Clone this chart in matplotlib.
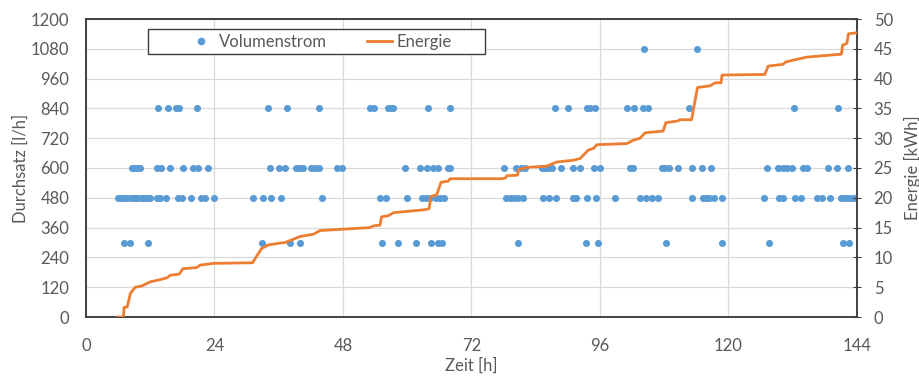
import matplotlib
matplotlib.use("Agg")
import matplotlib.pyplot as plt
from matplotlib.patches import Rectangle
from matplotlib.lines import Line2D

# === Daten ===
# Volumenstrom: Zeitpunkte [h] je Durchsatzstufe [l/h]
t_300 = [7.1, 8.2, 11.5, 32.8, 38.1, 40.0, 55.3, 58.2, 61.6, 64.4, 65.7, 66.4,
         80.7, 93.3, 95.7, 108.3, 118.7, 127.6, 141.3, 142.5]
t_480 = [5.9, 6.5, 7.1, 7.7, 8.4, 9.0, 9.6, 10.3, 10.7, 11.2, 11.8, 12.0, 13.3,
         13.8, 14.9, 17.2, 17.9, 19.6, 21.4, 22.2, 23.9, 31.1, 33.1, 34.5, 36.4,
         44.0, 54.9, 56.0, 60.0, 62.7, 63.5, 64.2, 65.4, 66.1, 66.9, 78.4, 79.2,
         79.9, 80.7, 81.7, 85.3, 86.5, 87.8, 91.0, 91.6, 93.6, 95.2, 98.8, 103.5,
         104.5, 105.7, 106.9, 113.1, 115.2, 115.8, 116.4, 117.2, 118.7, 126.7,
         129.4, 130.2, 132.4, 133.5, 136.5, 137.4, 139.0, 141.1, 141.8, 142.4,
         143.0, 143.6, 144.0]
t_600 = [8.6, 9.0, 9.5, 10.0, 13.3, 14.1, 15.7, 18.1, 20.0, 21.0, 22.7, 34.4,
         36.0, 37.2, 39.2, 39.8, 40.5, 42.0, 42.8, 43.6, 46.8, 47.8, 59.6, 62.3,
         63.7, 64.9, 65.8, 67.7, 68.0, 78.1, 80.3, 81.2, 82.0, 85.1, 85.7, 86.3,
         87.0, 88.8, 91.0, 92.3, 94.8, 96.0, 101.6, 102.2, 107.5, 108.1, 108.8,
         110.6, 113.2, 115.0, 116.7, 127.1, 129.3, 130.1, 130.9, 131.8, 133.9,
         134.7, 138.6, 140.2, 142.3]
t_840 = [13.4, 15.4, 16.8, 17.4, 20.7, 33.9, 37.5, 43.6, 53.0, 53.8, 56.4, 56.9,
         57.4, 63.9, 67.9, 87.6, 90.1, 93.5, 94.1, 95.1, 101.0, 102.3, 104.0,
         105.0, 112.6, 132.2, 140.5]
t_1080 = [104.2, 114.2]

# Energie (kumuliert) [kWh]
t_energie = [6.0, 7.0, 7.1, 7.7, 8.3, 9.2, 10.4, 12.0, 13.5, 14.4, 15.2, 15.7,
             17.4, 18.1, 20.7, 21.3, 23.8, 31.1, 32.8, 34.1, 36.2, 37.2, 40.0,
             42.5, 43.7, 53.0, 53.7, 54.9, 55.2, 56.5, 57.4, 63.3, 64.1, 64.4,
             65.5, 66.3, 67.7, 68.0, 77.6, 78.3, 78.6, 80.6, 80.8, 82.3, 86.0,
             87.9, 91.0, 92.3, 93.8, 94.8, 95.4, 101.0, 102.3, 103.5, 104.4,
             107.8, 108.3, 110.6, 110.9, 113.1, 114.2, 115.0, 116.6, 117.5,
             118.6, 118.8, 126.8, 127.4, 130.2, 130.7, 132.1, 134.6, 141.1,
             141.3, 142.1, 142.4, 144.0]
energie = [0.0, 0.0, 1.6, 1.7, 4.0, 5.0, 5.2, 5.9, 6.2, 6.4, 6.6, 7.0,
           7.2, 8.1, 8.3, 8.7, 9.0, 9.1, 11.5, 12.1, 12.4, 12.5, 13.5,
           13.9, 14.5, 15.0, 15.3, 15.4, 16.8, 17.0, 17.5, 18.0, 18.2, 20.2,
           20.5, 22.6, 22.8, 23.2, 23.2, 23.3, 23.7, 23.8, 24.7, 25.1, 25.3,
           26.0, 26.3, 26.6, 28.0, 28.3, 28.9, 29.1, 29.7, 30.0, 30.9,
           31.2, 32.6, 32.9, 33.1, 33.1, 38.5, 38.6, 38.8, 39.3,
           39.3, 40.6, 40.7, 42.1, 42.4, 42.8, 43.1, 43.6, 44.1,
           45.6, 45.9, 47.5, 47.7]

x_ticks = [0, 24, 48, 72, 96, 120, 144]
y_ticks = list(range(0, 1201, 120))
y2_ticks = list(range(0, 51, 5))

# Punkte zusammenbauen
flow_t = []
flow_v = []
for level, ts in [(300, t_300), (480, t_480), (600, t_600), (840, t_840), (1080, t_1080)]:
    flow_t += ts
    flow_v += [level] * len(ts)

# === Stil ===
BLUE = "#5B9BD5"
ORANGE = "#ED7D31"
TXT = "#595959"
SPINE = "#3c3c3c"
GRID = "#D9D9D9"

plt.rcParams["font.family"] = ["Lato", "DejaVu Sans"]
plt.rcParams["font.size"] = 12

fig = plt.figure(figsize=(9.2, 3.76), dpi=100)
ax = fig.add_axes([86 / 920, 59 / 376, 771 / 920, 298 / 376])
ax2 = ax.twinx()

ax.scatter(flow_t, flow_v, s=26, color=BLUE, linewidths=0, zorder=3)
ax2.plot(t_energie, energie, color=ORANGE, lw=2.0, zorder=3)

ax.set_xlim(0, 144)
ax.set_ylim(0, 1200)
ax2.set_ylim(0, 50)
ax.set_xticks(x_ticks)
ax.set_yticks(y_ticks)
ax2.set_yticks(y2_ticks)

ax.grid(True, color=GRID, lw=0.9)
ax.set_axisbelow(True)

for a in (ax, ax2):
    for s in a.spines.values():
        s.set_color(SPINE)
        s.set_linewidth(1.1)

ax.tick_params(axis="both", length=0, colors=TXT)
ax.tick_params(axis="y", pad=12)
ax.tick_params(axis="x", pad=15)
ax2.tick_params(axis="y", direction="inout", length=6, color=SPINE,
                labelcolor=TXT, pad=9)

ax.set_xlabel("Zeit [h]", color=TXT, labelpad=3)
ax.set_ylabel("Durchsatz [l/h]", color=TXT, labelpad=1.5)
ax2.set_ylabel("Energie [kWh]", color=TXT, labelpad=8)

# Legende mit eigenem Rahmen
box = Rectangle((0.0804, 0.8815), 0.437, 0.084, transform=ax2.transAxes,
                facecolor="white", edgecolor=SPINE, lw=1.0, zorder=5)
ax2.add_patch(box)
handles = [
    Line2D([], [], ls="none", marker="o", ms=5.5, color=BLUE, mec="none"),
    Line2D([], [], color=ORANGE, lw=2.0),
]
leg = ax2.legend(handles, ["Volumenstrom", "Energie"], ncol=2, frameon=False,
                 loc="center", bbox_to_anchor=(0.304, 0.9235),
                 columnspacing=2.4, handlelength=1.5, handletextpad=0.3,
                 borderpad=0.2)
leg.set_zorder(6)
for t in leg.get_texts():
    t.set_color(TXT)

fig.savefig("out.png", dpi=100)
